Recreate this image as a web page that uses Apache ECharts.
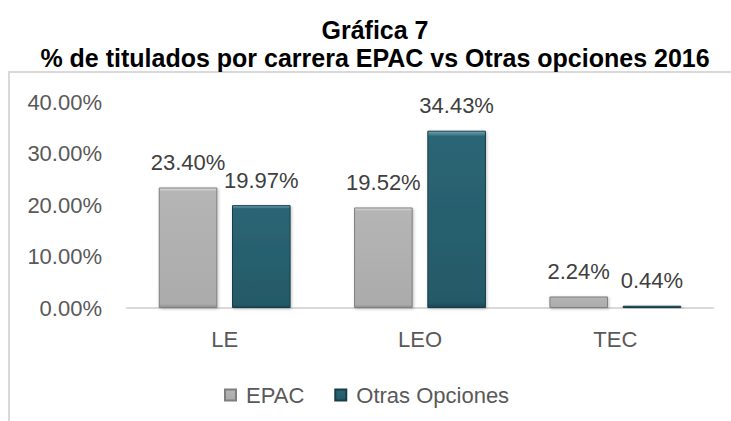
<!DOCTYPE html>
<html>
<head>
<meta charset="utf-8">
<script src="https://cdn.jsdelivr.net/npm/echarts@6/dist/echarts.min.js"></script>
<style>
  html, body { margin: 0; padding: 0; background: #fff; }
  #chart { width: 731px; height: 421px; }
</style>
</head>
<body>
<div id="chart"></div>
<script>
// datos
const categorias = ['LE', 'LEO', 'TEC'];
const epac = [23.40, 19.52, 2.24];
const otrasOpciones = [19.97, 34.43, 0.44];
const nombresSeries = ['EPAC', 'Otras Opciones'];

const FONT = '"Liberation Sans", Arial, sans-serif';

const chart = echarts.init(document.getElementById('chart'), null, { renderer: 'svg' });

const etiqueta = {
    show: true,
    position: 'top',
    distance: 14,
    fontFamily: FONT,
    fontSize: 22,
    color: '#404040',
    formatter: p => p.value.toFixed(2) + '%'
};

chart.setOption({
    animation: false,
    title: [
        {
            text: 'Gráfica 7',
            left: 375,
            textAlign: 'center',
            top: 17,
            padding: 0,
            textStyle: { fontFamily: FONT, fontSize: 25, lineHeight: 25, fontWeight: 'bold', color: '#000' }
        },
        {
            text: '% de titulados por carrera EPAC vs Otras opciones 2016',
            left: 375,
            textAlign: 'center',
            top: 45,
            padding: 0,
            textStyle: { fontFamily: FONT, fontSize: 25, lineHeight: 25, fontWeight: 'bold', color: '#000' }
        }
    ],
    // marco del area de la grafica
    graphic: [
        {
            type: 'rect',
            shape: { x: 9, y: 72, width: 740, height: 370 },
            style: { fill: 'none', stroke: '#D9D9D9', lineWidth: 2 },
            silent: true
        }
    ],
    legend: {
        data: nombresSeries,
        left: 219,
        top: 379,
        icon: 'rect',
        itemWidth: 11,
        itemHeight: 11,
        itemGap: 30,
        textStyle: { fontFamily: FONT, fontSize: 22, color: '#595959', padding: [0, 0, 0, 5] }
    },
    grid: {
        left: 127,
        right: 18,
        top: 102,
        bottom: 113,
        containLabel: false
    },
    xAxis: {
        type: 'category',
        data: categorias,
        axisTick: { show: false },
        axisLine: { lineStyle: { color: '#D9D9D9', width: 2 } },
        axisLabel: { margin: 20, fontFamily: FONT, fontSize: 22, color: '#595959' }
    },
    yAxis: {
        type: 'value',
        min: 0,
        max: 40,
        interval: 10,
        axisLine: { show: false },
        axisTick: { show: false },
        splitLine: { show: false },
        axisLabel: {
            margin: 25,
            fontFamily: FONT,
            fontSize: 22,
            color: '#595959',
            formatter: v => v.toFixed(2) + '%'
        }
    },
    series: [
        {
            name: nombresSeries[0],
            type: 'bar',
            data: epac,
            barWidth: '30%',
            barGap: '25%',
            itemStyle: {
                color: new echarts.graphic.LinearGradient(0, 0, 0, 1, [
                    { offset: 0, color: '#E0E0E0' },
                    { offset: 0.03, color: '#B5B5B5' },
                    { offset: 0.97, color: '#ABABAB' },
                    { offset: 1, color: '#8F8F8F' }
                ]),
                borderColor: '#7F7F7F',
                borderWidth: 1,
                shadowColor: 'rgba(0,0,0,0.25)',
                shadowBlur: 3,
                shadowOffsetX: 1,
                shadowOffsetY: 1
            },
            label: etiqueta
        },
        {
            name: nombresSeries[1],
            type: 'bar',
            data: otrasOpciones,
            barWidth: '30%',
            itemStyle: {
                color: new echarts.graphic.LinearGradient(0, 0, 0, 1, [
                    { offset: 0, color: '#6FA6B4' },
                    { offset: 0.03, color: '#2B6574' },
                    { offset: 0.97, color: '#245A68' },
                    { offset: 1, color: '#1A4653' }
                ]),
                borderColor: '#173E48',
                borderWidth: 1,
                shadowColor: 'rgba(0,0,0,0.25)',
                shadowBlur: 3,
                shadowOffsetX: 1,
                shadowOffsetY: 1
            },
            label: etiqueta
        }
    ]
});
</script>
</body>
</html>
